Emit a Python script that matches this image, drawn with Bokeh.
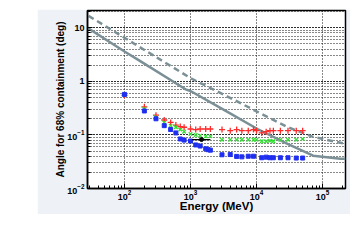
from bokeh.plotting import figure
from bokeh.models import Spacer
from bokeh.layouts import row, column
from bokeh.embed import file_html
from bokeh.resources import INLINE

# ---- data ----
solid_E = [27.5, 100, 157, 840, 1000, 3630, 10350, 29500, 72000, 187000, 223000]
solid_theta = [10, 3.6, 2.57, 0.71, 0.66, 0.27, 0.129, 0.068, 0.041, 0.036, 0.036]

dash_E = [28.5, 377, 1000, 3630, 10350, 29500, 72000, 223000]
dash_theta = [16.7, 2.4, 1.15, 0.52, 0.27, 0.14, 0.092, 0.068]

red_E = [100, 200, 300, 400, 500, 600, 700, 800, 1000, 1200, 1400, 1700, 2000,
         3000, 4000, 5000, 6000, 7500, 9000, 10000, 12000, 14000, 16000, 18000,
         23000, 30000, 40000, 50000]
red_theta = [0.55, 0.334, 0.234, 0.19, 0.171, 0.153, 0.143, 0.139, 0.129, 0.126,
             0.129, 0.129, 0.129, 0.126, 0.12, 0.126, 0.12, 0.12, 0.126, 0.12,
             0.109, 0.115, 0.12, 0.12, 0.12, 0.12, 0.12, 0.12]

green_E = red_E
green_theta = [0.56, 0.31, 0.215, 0.17, 0.149, 0.139, 0.126, 0.115, 0.104, 0.1,
               0.097, 0.094, 0.094, 0.081, 0.081, 0.081, 0.081, 0.081, 0.081,
               0.081, 0.076, 0.076, 0.078, 0.076, 0.081, 0.081, 0.081, 0.084]

blue_E = [100, 200, 300, 400, 500, 600, 700, 800, 1000, 1200, 1400, 1700, 1850,
          2000, 3000, 4000, 5000, 6000, 7500, 9000, 12000, 14000, 16000, 18000,
          23000, 30000, 40000, 50000]
blue_theta = [0.57, 0.28, 0.2, 0.149, 0.126, 0.109, 0.084, 0.08, 0.077, 0.065,
              0.062, 0.055, 0.053, 0.052, 0.0426, 0.043, 0.0397, 0.039, 0.04,
              0.04, 0.0375, 0.0385, 0.0375, 0.0375, 0.0375, 0.0375, 0.037, 0.037]

black_E = [1470]
black_theta = [0.082]
black_E_lo = [1060]
black_E_hi = [2000]

x_lim = (27.5, 2.23e5)
y_lim = (0.01, 21)

FONT = "Liberation Sans"
LINE_COL = "#7b9096"

p = figure(x_axis_type="log", y_axis_type="log", x_range=x_lim, y_range=y_lim,
           width=313, height=205, output_backend="svg",
           toolbar_location=None, min_border_left=50, min_border_right=5,
           min_border_top=1, min_border_bottom=23)
p.border_fill_color = "#eef2f7"
p.background_fill_color = "white"
p.outline_line_color = "black"
p.outline_line_width = 1.5

for g in (p.xgrid, p.ygrid):
    g.grid_line_color = "#111111"
    g.grid_line_dash = "1 2"
    g.grid_line_width = 1
p.xgrid.minor_grid_line_color = None
p.ygrid.minor_grid_line_color = "#111111"
p.ygrid.minor_grid_line_dash = "1 2"

for ax in (p.xaxis[0], p.yaxis[0]):
    ax.axis_line_color = "black"
    ax.axis_line_width = 1.5
    ax.major_tick_in = 5
    ax.major_tick_out = 0
    ax.minor_tick_in = 3
    ax.minor_tick_out = 0
    ax.major_tick_line_color = "black"
    ax.minor_tick_line_color = "black"
    ax.major_label_text_font = FONT
    ax.major_label_text_font_style = "bold"
    ax.major_label_text_font_size = "9px"
    ax.major_label_text_color = "black"
    ax.axis_label_text_font = FONT
    ax.axis_label_text_font_style = "bold"
    ax.axis_label_text_color = "black"

p.xaxis.major_label_standoff = 1
p.xaxis.axis_label_standoff = -3
p.xaxis.axis_label = "Energy (MeV)"
p.xaxis.axis_label_text_font_size = "11.5px"

p.yaxis.major_label_standoff = 3
p.yaxis.axis_label_standoff = -2
p.yaxis.axis_label = "Angle for 68% containment (deg)"
p.yaxis.axis_label_text_font_size = "10px"
p.yaxis.major_label_overrides = {1: "1", 10: "10"}

p.line(solid_E, solid_theta, line_color=LINE_COL, line_width=2.5)
p.line(dash_E, dash_theta, line_color=LINE_COL, line_width=2.5, line_dash="6 4")

p.scatter(red_E, red_theta, marker="cross", size=6, line_color="#ff2a2a", line_width=1.3)
p.scatter(green_E, green_theta, marker="x", size=5, line_color="#2ee02e", line_width=1.3)
p.scatter(blue_E, blue_theta, marker="square", size=4, fill_color="#1f2ff0",
          line_color="#1f2ff0")
p.segment(black_E_lo, black_theta, black_E_hi, black_theta, line_color="black", line_width=1.3)
p.scatter(black_E, black_theta, marker="circle", size=4, fill_color="black", line_color="black")

layout = column(Spacer(width=10, height=9), row(Spacer(width=37, height=10), p))
open("out.html", "w").write(file_html(layout, INLINE))
